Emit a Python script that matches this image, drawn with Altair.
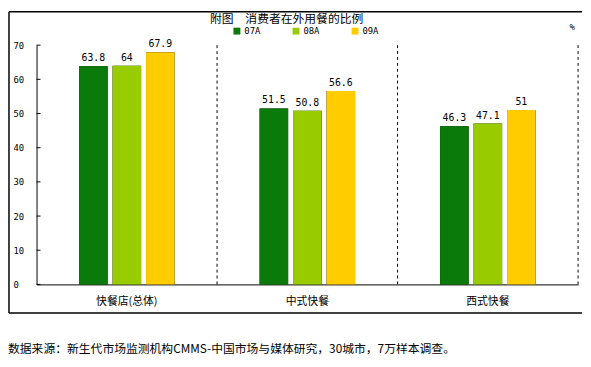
import altair as alt
import pandas as pd

categories = ["快餐店(总体)", "中式快餐", "西式快餐"]
series = ["07A", "08A", "09A"]
v07 = [63.8, 51.5, 46.3]
v08 = [64, 50.8, 47.1]
v09 = [67.9, 56.6, 51]
y_ticks = [0, 10, 20, 30, 40, 50, 60, 70]
colors = ["#0a7a0a", "#99cc00", "#ffcc00"]
title_text = "附图\u3000消费者在外用餐的比例"
unit_text = "%"
source_text = "数据来源：新生代市场监测机构CMMS-中国市场与媒体研究，30城市，7万样本调查。"

rows = []
for i, c in enumerate(categories):
    for s, vals in zip(series, [v07, v08, v09]):
        rows.append({"cat": c, "series": s, "value": vals[i]})
df = pd.DataFrame(rows)

W, H = 550, 243
MONO = "DejaVu Sans Mono"
CJK = "Noto Sans CJK SC"

xscale = alt.Scale(paddingInner=0, paddingOuter=0)
xaxis = alt.Axis(ticks=False, domainColor="black", labelFont=CJK,
                 labelFontSize=11, labelColor="black", labelPadding=11,
                 labelAngle=0, labelAlign="center", grid=False, title=None)
yscale = alt.Scale(domain=[0, 70], nice=False)
yaxis = alt.Axis(values=y_ticks, ticks=False, domainColor="black",
                 labelFont=MONO, labelFontSize=9, labelColor="black",
                 labelAlign="left", labelPadding=24, grid=False,
                 labelOverlap=False, labelFlush=False, title=None)
xenc = alt.X("cat:N", sort=categories, scale=xscale, axis=xaxis)
yenc = alt.Y("value:Q", scale=yscale, axis=yaxis)
xoff = alt.XOffset("series:N", sort=series,
                   scale=alt.Scale(range=[43.2, 140.2], paddingInner=0.147, paddingOuter=0))
color = alt.Color("series:N", sort=series,
                  scale=alt.Scale(domain=series, range=colors),
                  legend=alt.Legend(title=None, orient="none", legendX=199, legendY=-19,
                                    direction="horizontal", symbolType="square",
                                    symbolSize=49, symbolStrokeWidth=0,
                                    labelFont=MONO, labelFontSize=9, labelColor="black",
                                    labelOffset=3, columnPadding=31))

base = alt.Chart(df)
shadow = base.mark_bar(color="black", xOffset=2).encode(x=xenc, y=yenc, xOffset=xoff)
bars = base.mark_bar().encode(x=xenc, y=yenc, xOffset=xoff, color=color)
labels = base.mark_text(font=MONO, fontSize=10, baseline="bottom", dy=-3, color="black").encode(
    x=xenc, y=yenc, xOffset=xoff, text=alt.Text("value:Q"))

seps = alt.Chart(pd.DataFrame({"cat": categories})).mark_rule(
    color="black", strokeDash=[3, 3], strokeWidth=1).encode(
    x=alt.X("cat:N", sort=categories, bandPosition=1, scale=xscale, axis=xaxis),
    y=alt.value(0), y2=alt.value(H))

ticks_in = alt.Chart(pd.DataFrame({"t": y_ticks})).mark_rule(color="black").encode(
    y=alt.Y("t:Q", scale=yscale, axis=yaxis), x=alt.value(0), x2=alt.value(4))

one = pd.DataFrame({"a": [0]})
frame_top = alt.Chart(one).mark_rule(color="black", strokeWidth=1.5).encode(
    x=alt.value(-28), x2=alt.value(554), y=alt.value(-34))
frame_bottom = alt.Chart(one).mark_rule(color="black", strokeWidth=1.5).encode(
    x=alt.value(-28), x2=alt.value(554), y=alt.value(272))
frame_left = alt.Chart(one).mark_rule(color="black", strokeWidth=1.5).encode(
    x=alt.value(-28), y=alt.value(-34), y2=alt.value(272))

title = alt.Chart(one).mark_text(font=CJK, fontSize=12, color="black", baseline="middle").encode(
    x=alt.value(254), y=alt.value(-27), text=alt.value(title_text))
unit = alt.Chart(one).mark_text(font=MONO, fontSize=9, color="black", baseline="middle").encode(
    x=alt.value(544), y=alt.value(-18), text=alt.value(unit_text))
source = alt.Chart(one).mark_text(font=CJK, fontSize=12, color="black", baseline="middle",
                                  align="left").encode(
    x=alt.value(-29), y=alt.value(309), text=alt.value(source_text))

chart = alt.layer(frame_top, frame_bottom, frame_left, seps, shadow, bars, labels, ticks_in,
                  title, unit, source).properties(
    width=W, height=H, padding=0, background="white"
).configure_view(stroke=None)

chart.save("out.html", embed_options={"renderer": "svg", "actions": False})
